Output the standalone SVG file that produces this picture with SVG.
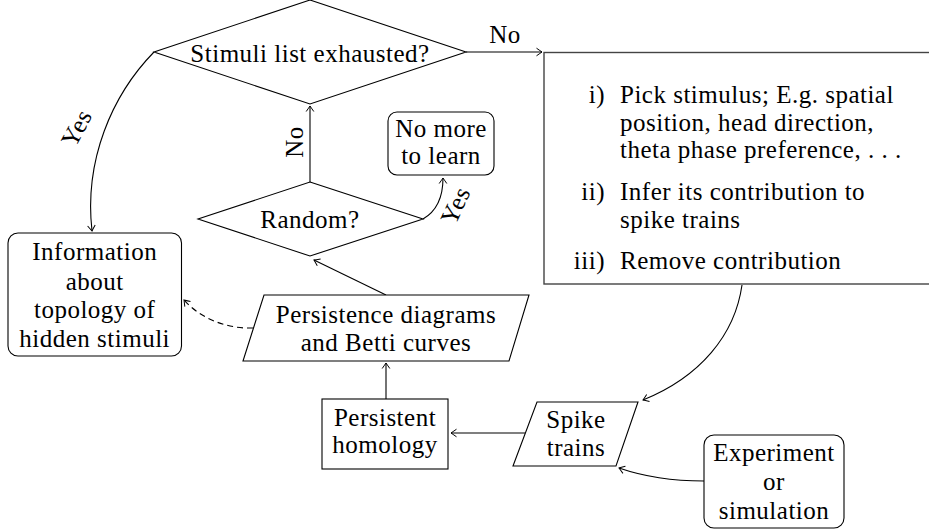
<svg xmlns="http://www.w3.org/2000/svg" width="929" height="531" viewBox="0 0 929 531">
<defs>
<marker id="arr" markerUnits="userSpaceOnUse" markerWidth="12" markerHeight="12" viewBox="-8 -6 10 12" refX="0" refY="0" orient="auto">
<path d="M-5.5,-3.8 Q-1.5,-1 0,0 Q-1.5,1 -5.5,3.8" fill="none" stroke="#000" stroke-width="1"/>
</marker>
</defs>
<style>
text{font-family:"Liberation Serif","Times New Roman",serif;font-size:25px;letter-spacing:0.5px;fill:#000}
.c{text-anchor:middle}
.r{text-anchor:end}
.shape{fill:#fff;stroke:#000;stroke-width:1.1}
.edge{fill:none;stroke:#000;stroke-width:1.1;marker-end:url(#arr)}
.dash{stroke-dasharray:6 4}
</style>
<rect width="929" height="531" fill="#fff"/>

<g id="connectors">
<path class="edge" d="M466,52 L542,52"/>
<path class="edge" d="M154,52 C112,95 84,160 92,231"/>
<path class="edge" d="M310,182 L310,106"/>
<path class="edge" d="M423,219 C437,211 443,197 443,178"/>
<path class="edge" d="M386,295 L314,260"/>
<path class="edge dash" d="M253,328 C226,329 200,318 184,300"/>
<path class="edge" d="M386,399 L386,363"/>
<path class="edge" d="M525,433 L451,433"/>
<path class="edge" d="M742,285 C735,335 700,377 643,400"/>
<path class="edge" d="M704,481 C670,481 645,477 619,468"/>
<text x="505" y="43" class="c">No</text>
<text transform="translate(303,142) rotate(-90)" class="c">No</text>
<text transform="translate(84,132) rotate(-62)" class="c">Yes</text>
<text transform="translate(463,209) rotate(-65)" class="c">Yes</text>
</g>

<g id="stimuli-exhausted">
<polygon class="shape" points="310,0 466,52 310,104 154,52"/>
<text x="310" y="62" class="c">Stimuli list exhausted?</text>
</g>

<g id="procedure">
<rect x="544" y="52.5" width="420" height="231.5" fill="#fff" stroke="#444" stroke-width="1.4"/>
<text x="605" y="103" class="r">i)</text>
<text x="620" y="103">Pick stimulus; E.g. spatial</text>
<text x="620" y="131">position, head direction,</text>
<text x="620" y="158">theta phase preference, . . .</text>
<text x="605" y="200" class="r">ii)</text>
<text x="620" y="200">Infer its contribution to</text>
<text x="620" y="228">spike trains</text>
<text x="605" y="269" class="r">iii)</text>
<text x="620" y="269">Remove contribution</text>
</g>

<g id="random">
<polygon class="shape" points="310,182 423,219 310,256 198,219"/>
<text x="310" y="228" class="c">Random?</text>
</g>

<g id="no-more">
<rect class="shape" x="388" y="112" width="106" height="63" rx="9"/>
<text x="441" y="137" class="c">No more</text>
<text x="441" y="164" class="c">to learn</text>
</g>

<g id="information">
<rect class="shape" x="8" y="233" width="173.5" height="123" rx="10"/>
<text x="94.7" y="260" class="c">Information</text>
<text x="94.7" y="290" class="c">about</text>
<text x="94.7" y="318" class="c">topology of</text>
<text x="94.7" y="347" class="c">hidden stimuli</text>
</g>

<g id="persistence-diagrams">
<polygon class="shape" points="264,295 529,295 509,361 243,361"/>
<text x="386" y="323" class="c">Persistence diagrams</text>
<text x="386" y="351" class="c">and Betti curves</text>
</g>

<g id="persistent-homology">
<rect class="shape" x="322" y="399" width="126" height="70"/>
<text x="385" y="426" class="c">Persistent</text>
<text x="385" y="453" class="c">homology</text>
</g>

<g id="spike-trains">
<polygon class="shape" points="537,402 638,402 616,466 513,466"/>
<text x="576" y="428" class="c">Spike</text>
<text x="576" y="456" class="c">trains</text>
</g>

<g id="experiment">
<rect class="shape" x="704" y="435" width="140" height="93" rx="10"/>
<text x="774" y="461" class="c">Experiment</text>
<text x="774" y="490" class="c">or</text>
<text x="774" y="519" class="c">simulation</text>
</g>
</svg>
